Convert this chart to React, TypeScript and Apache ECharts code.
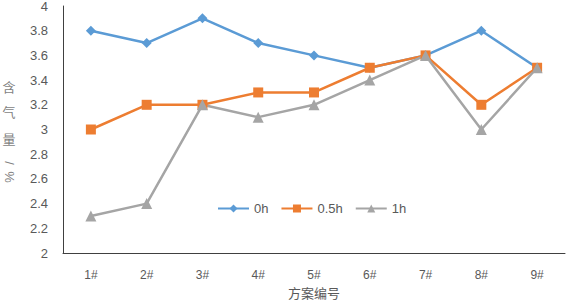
import React, { useEffect, useRef } from "react";
import * as echarts from "echarts";

const categories = ["1#", "2#", "3#", "4#", "5#", "6#", "7#", "8#", "9#"];
const seriesNames = ["0h", "0.5h", "1h"];
const values0h = [3.8, 3.7, 3.9, 3.7, 3.6, 3.5, 3.6, 3.8, 3.5];
const values05h = [3.0, 3.2, 3.2, 3.3, 3.3, 3.5, 3.6, 3.2, 3.5];
const values1h = [2.3, 2.4, 3.2, 3.1, 3.2, 3.4, 3.6, 3.0, 3.5];

export default function App() {
  const ref = useRef<HTMLDivElement>(null);
  useEffect(() => {
    if (!ref.current) return;
    const chart = echarts.init(ref.current, null, { renderer: "svg" });
    const labelColor = "#595959";
    const nameColor = "#7f7f7f";
    const font = "'Liberation Sans', 'DejaVu Sans', sans-serif";
    const cjk = "'Noto Sans CJK SC', sans-serif";
    const ch = (text: string, y: number, rot = 0) => ({
      type: "text",
      x: 9,
      y,
      rotation: rot,
      style: { text, fill: nameColor, fontSize: 13, fontFamily: rot ? font : cjk, align: "center", verticalAlign: "middle" },
    });
    chart.setOption({
      animation: false,
      grid: { left: 63, right: 1, top: 6, bottom: 48, outerBoundsMode: "none", containLabel: false },
      legend: {
        left: 212,
        top: 197,
        itemWidth: 31,
        itemHeight: 10,
        itemGap: 12,
        textStyle: { color: labelColor, fontSize: 13, fontFamily: font },
        data: seriesNames,
      },
      xAxis: {
        type: "category",
        data: categories,
        boundaryGap: true,
        axisLine: { lineStyle: { color: "#404040", width: 1 } },
        axisTick: { show: false },
        axisLabel: { color: labelColor, fontSize: 12, fontFamily: font, margin: 16 },
        name: "方案编号",
        nameLocation: "middle",
        nameGap: 33,
        nameTextStyle: { color: labelColor, fontSize: 13, fontFamily: cjk },
      },
      yAxis: {
        type: "value",
        min: 2,
        max: 4,
        interval: 0.2,
        axisLine: { show: true, lineStyle: { color: "#404040", width: 1 } },
        axisTick: { show: false },
        splitLine: { show: false },
        axisLabel: {
          color: labelColor,
          fontSize: 13,
          fontFamily: font,
          margin: 15,
          formatter: (v: number) => String(Math.round(v * 10) / 10),
        },
      },
      graphic: [
        ch("含", 86),
        ch("气", 111),
        ch("量", 138),
        ch("/", 163, -Math.PI / 2),
        ch("%", 177, -Math.PI / 2),
      ],
      series: [
        {
          name: "0h",
          type: "line",
          data: values0h,
          symbol: "diamond",
          symbolSize: 10,
          itemStyle: { color: "#5B9BD5" },
          lineStyle: { width: 2.5, color: "#5B9BD5" },
        },
        {
          name: "0.5h",
          type: "line",
          data: values05h,
          symbol: "rect",
          symbolSize: 10,
          itemStyle: { color: "#ED7D31" },
          lineStyle: { width: 2.5, color: "#ED7D31" },
        },
        {
          name: "1h",
          type: "line",
          data: values1h,
          symbol: "triangle",
          symbolSize: 11,
          itemStyle: { color: "#A5A5A5" },
          lineStyle: { width: 2.5, color: "#A5A5A5" },
        },
      ],
    });
    return () => chart.dispose();
  }, []);
  return <div ref={ref} style={{ width: 566, height: 301, position: "absolute", left: 0, top: 0 }} />;
}
